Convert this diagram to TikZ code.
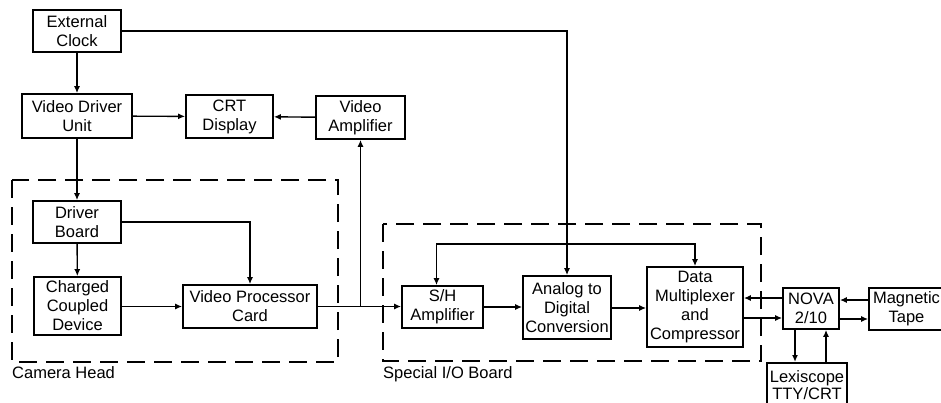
\documentclass[tikz,border=0pt]{standalone}
\usepackage{fontspec}
\setmainfont{Liberation Sans}
\usetikzlibrary{arrows.meta,calc}
\begin{document}
\begin{tikzpicture}[x=1pt,y=-1pt,
  box/.style={draw,line width=1.7pt,inner sep=0pt,align=center,
    font=\fontsize{16.5}{19}\selectfont},
  arr/.style={line width=1.4pt,-{Latex[length=7pt,width=6pt]}},
  arr2/.style={line width=1.4pt,{Latex[length=7pt,width=6pt]}-{Latex[length=7pt,width=6pt]}},
  group/.style={draw,line width=1.7pt,dash pattern=on 18pt off 9pt},
  lbl/.style={anchor=west,inner sep=0pt,font=\fontsize{16.5}{19}\selectfont}]
\useasboundingbox (0,0) rectangle (941,402);
\clip (0,0) rectangle (941,402);
% groups
\draw[group] (12,180) rectangle (338,362);
\draw[group] (383,224) rectangle (761,361);
\node[lbl] (camlbl) at (12,373) {Camera Head};
\node[lbl] (siolbl) at (383,374) {Special I/O Board};
% boxes
\node[box,minimum width=88,minimum height=42] (clock) at (77,31) {External\\Clock};
\node[box,minimum width=110,minimum height=44] (vdu) at (77,116) {Video Driver\\Unit};
\node[box,minimum width=87,minimum height=43] (crt) at (229.5,116.5) {CRT\\Display};
\node[box,minimum width=89,minimum height=43] (vamp) at (360.5,117.5) {Video\\Amplifier};
\node[box,minimum width=88,minimum height=42] (db) at (77,222) {Driver\\Board};
\node[box,minimum width=87,minimum height=58] (ccd) at (77.5,306) {Charged\\Coupled\\Device};
\node[box,minimum width=134,minimum height=43] (vpc) at (250,306.5) {Video Processor\\Card};
\node[box,minimum width=81,minimum height=42] (sh) at (442.5,307) {S/H\\Amplifier};
\node[box,minimum width=88,minimum height=63] (adc) at (567,307.5) {Analog to\\Digital\\Conversion};
\node[box,minimum width=96,minimum height=80] (dmc) at (695,307) {Data\\Multiplexer\\and\\Compressor};
\node[box,minimum width=56,minimum height=41] (nova) at (811,308.5) {NOVA\\2/10};
\node[box,minimum width=75,minimum height=42] (mt) at (906.5,309) {Magnetic\\Tape};
\node[box,minimum width=80,minimum height=44,anchor=north,
  font=\fontsize{16.5}{17.5}\selectfont] (lex) at (807,362) {Lexiscope\\TTY/CRT};
% connectors
\draw[arr] (clock) -- (vdu);
\draw[arr] (clock.east) -| (adc.north);
\draw[arr] (vdu) -- (crt);
\draw[arr] (vamp) -- (crt);
\draw[arr] (vdu) -- (db);
\draw[arr] (db) -- (ccd);
\draw[arr] (db.east) -| (vpc.north);
\draw[arr] (ccd.east |- vpc.east) -- (vpc.west);
\draw[arr] (vpc.east) -- (sh.west |- vpc.east);
\coordinate (j) at (vamp.south |- vpc.east);
\draw[arr] (j) -- (vamp.south);
\draw[arr] (sh.east) -- (adc.west |- sh.east);
\draw[arr] (adc.east |- 0,308) -- (dmc.west |- 0,308);
\draw[arr2] ([xshift=-6pt]sh.north) -- ++(0,-41) -| (dmc.north);
\draw[arr] (nova.west |- 0,298) -- (dmc.east |- 0,298);
\draw[arr] (dmc.east |- 0,318) -- (nova.west |- 0,318);
\draw[arr] (mt.west |- 0,300) -- (nova.east |- 0,300);
\draw[arr] (nova.east |- 0,319) -- (mt.west |- 0,319);
\draw[arr] (nova.south -| 795,0) -- (lex.north -| 795,0);
\draw[arr] (lex.north -| 826,0) -- (nova.south -| 826,0);
\end{tikzpicture}
\end{document}
